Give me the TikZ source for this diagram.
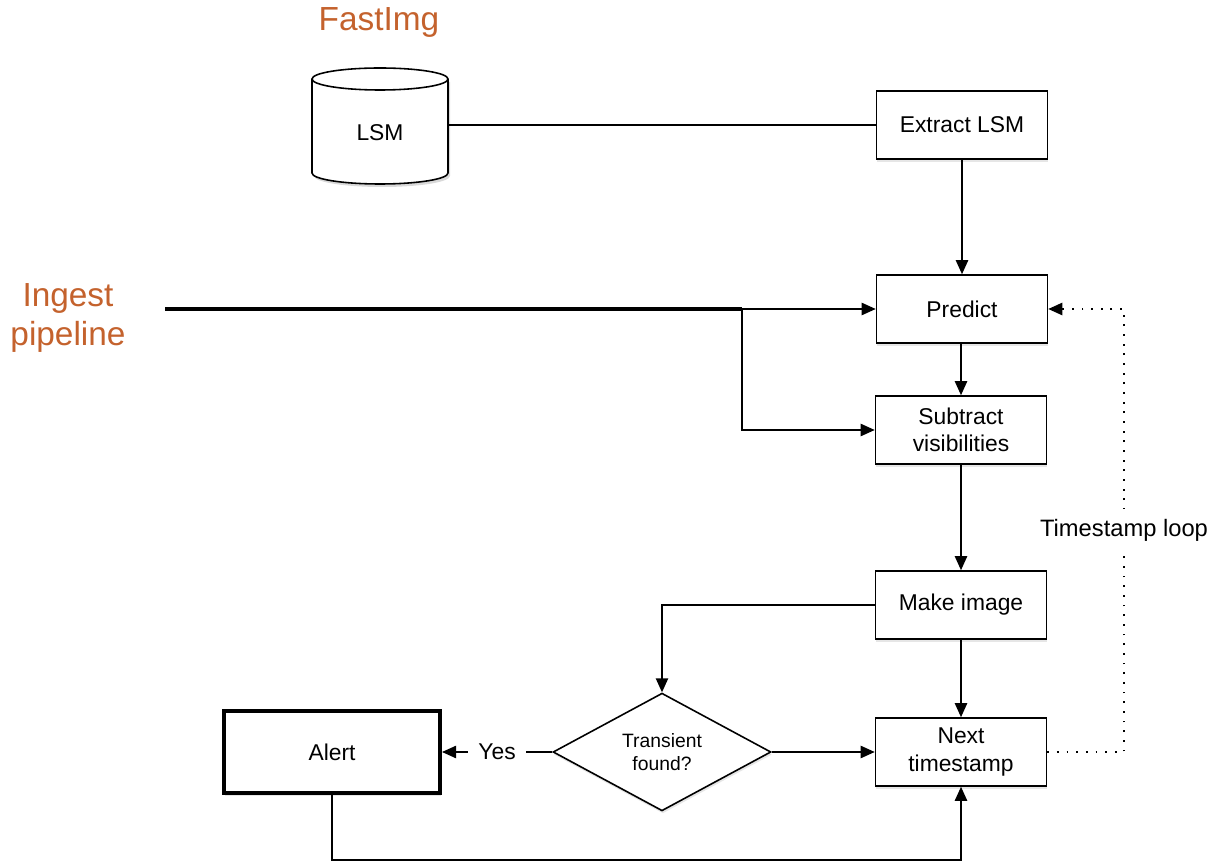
\documentclass[tikz,border=0pt]{standalone}
\usepackage{fontspec}
\setmainfont{Liberation Sans}
\usepackage[dvipsnames]{xcolor}
\usetikzlibrary{calc,arrows.meta,shapes.geometric,shadows}

\definecolor{labelorange}{RGB}{196,98,45}

\tikzset{
  stage/.style={draw, fill=white, line width=0.9pt, minimum width=3.42cm,
    minimum height=1.36cm, align=center, font=\fontsize{13}{15.5}\selectfont,
    drop shadow={shadow xshift=0.5pt, shadow yshift=-1.5pt, opacity=0.2}},
  flow/.style={line width=0.9pt, -{Triangle[length=8pt,width=7pt]}},
  tag/.style={text=labelorange, font=\fontsize{19}{22}\selectfont, align=center}
}

\begin{document}
\begin{tikzpicture}[x=0.02cm, y=-0.02cm]

  % Frame of the picture (pixel grid)
  \useasboundingbox (0,0) rectangle (1225,864);

  % Orange labels
  \node[tag] (fastimg) at (379,22) {FastImg};
  \node[tag] (ingest)  at (68,318) {Ingest\\pipeline};

  % LSM store (cylinder)
  \fill[black, opacity=0.15] (314,82) -- (314,176) arc[start angle=180, end angle=0, x radius=68, y radius=11] -- (450,82) -- cycle;
  \draw[line width=0.9pt, fill=white] (312,79) -- (312,173)
    arc[start angle=180, end angle=0, x radius=68, y radius=11] -- (448,79);
  \draw[line width=0.9pt, fill=white] (380,79) ellipse [x radius=68, y radius=11];
  \node[minimum width=2.72cm, inner sep=0, font=\fontsize{13}{15.5}\selectfont] (lsm) at (380,133) {LSM};

  % Processing stages
  \node[stage] (extract)  at (962,125) {Extract LSM};
  \node[stage] (predict)  at (962,309) {Predict};
  \node[stage] (subtract) at (961,430) {Subtract\\visibilities};
  \node[stage] (image)    at (961,605) {Make image};
  \node[stage] (next)     at (961,752) {Next\\timestamp};

  % Decision and alert
  \node[draw, fill=white, diamond, line width=0.9pt, minimum width=4.36cm,
    minimum height=2.12cm, inner sep=0, align=center,
    font=\fontsize{11}{13.5}\selectfont,
    drop shadow={shadow xshift=0.5pt, shadow yshift=-1.5pt, opacity=0.2}]
    (transient) at (662,752) {Transient\\found?};
  \node[stage, line width=2.3pt, minimum width=4.32cm, minimum height=1.64cm] (alert) at (332,752) {Alert};

  % Junction points
  \coordinate (start)  at (165,309);
  \coordinate (split)  at (742,309);
  \coordinate (loopx)  at (1124,0);
  \coordinate (bottom) at (0,860);

  % Connectors
  \draw[line width=0.9pt] (lsm.east |- extract.west) -- (extract.west);
  \draw[flow] (extract) -- (predict);
  \draw[line width=1.8pt] (start) -- (split);
  \draw[flow] (split) -- (predict.west);
  \draw[flow] (split) |- (subtract.west);
  \draw[flow] (predict.south -| subtract) -- (subtract);
  \draw[flow] (subtract) -- (image);
  \draw[flow] (image) -- (next);
  \draw[flow] (image.west) -| (transient.north);
  \draw[flow] (transient) -- (next);
  \draw[flow] (transient.west) -- node[fill=white, inner xsep=6pt, font=\fontsize{13}{15.5}\selectfont] (yes) {Yes} (alert.east);
  \draw[flow] (alert.south) |- (bottom -| next) -- (next.south);

  % Timestamp loop (dotted)
  \draw[line width=1pt, dash pattern=on 1pt off 4.5pt, -{Triangle[length=8pt,width=7pt]}]
    (next.east) -- (next.east -| loopx)
    -- node[fill=white, inner ysep=6pt, font=\fontsize{13.5}{16}\selectfont] (looplabel) {Timestamp loop}
       (predict.east -| loopx) -- (predict.east);

\end{tikzpicture}
\end{document}
